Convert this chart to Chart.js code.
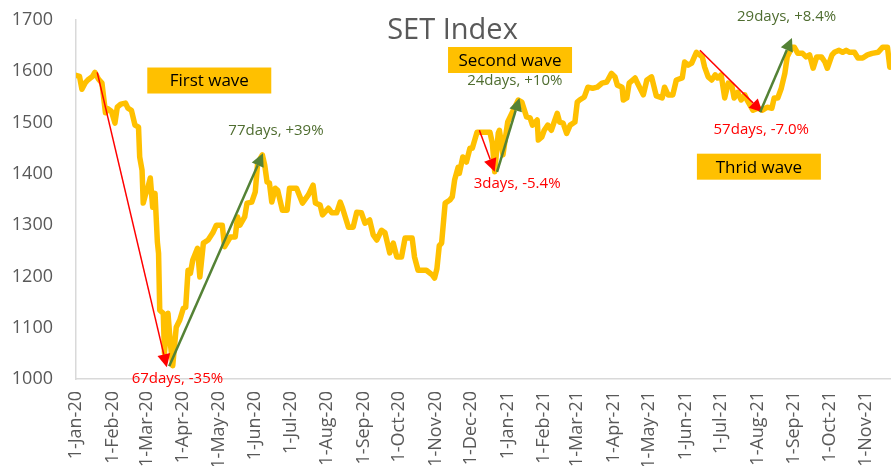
<!DOCTYPE html>
<html>
<head>
<meta charset="utf-8">
<script src="https://cdn.jsdelivr.net/npm/chart.js@4.4.0/dist/chart.umd.min.js"></script>
<style>
  html, body { margin: 0; padding: 0; background: #fff; }
</style>
</head>
<body>
<canvas id="setChart" width="891" height="466"></canvas>
<script>
// days counted from 1-Jan-20
const tradeDays = [
  0, 3, 5, 8, 10, 14, 16, 19, 22, 25, 27, 30, 33, 35, 38, 42, 44, 47, 50, 53,
  54, 56, 57, 59, 61, 63, 65, 67, 69, 70, 71, 74, 75, 78, 80, 82, 85, 88, 91, 93,
  95, 97, 99, 103, 105, 108, 112, 116, 119, 124, 126, 131, 135, 137, 139, 143, 145, 149, 152, 154,
  158, 160, 162, 164, 166, 169, 171, 175, 179, 181, 187, 192, 197, 201, 203, 207, 209, 214, 217, 221,
  224, 226, 231, 235, 238, 242, 245, 249, 252, 255, 259, 262, 266, 269, 272, 276, 279, 285, 287, 290,
  294, 297, 302, 304, 306, 308, 310, 313, 317, 319, 321, 324, 325, 328, 331, 334, 336, 340, 342, 347,
  351, 353, 355, 358, 359, 362, 366, 370, 375, 378, 382, 385, 387, 391, 392, 395, 397, 400, 403, 408,
  410, 413, 416, 419, 423, 425, 427, 431, 434, 438, 442, 446, 450, 454, 457, 459, 463, 464, 467, 469,
  474, 476, 481, 484, 488, 492, 497, 499, 502, 506, 509, 514, 516, 519, 522, 526, 531, 533, 536, 539,
  542, 544, 547, 550, 553, 556, 558, 561, 564, 567, 569, 574, 578, 582, 586, 590, 592, 595, 598, 601,
  603, 607, 609, 612, 616, 619, 622, 625, 628, 632, 635, 637, 641, 643, 647, 650, 653, 656, 660, 663,
  667, 671, 675, 680, 684, 688, 690
];
const setIndex = [
  1592, 1590, 1565, 1578, 1583, 1590, 1598, 1585, 1577, 1519, 1527, 1522, 1499, 1530, 1536, 1538, 1528, 1524, 1495, 1491,
  1433, 1407, 1343, 1360, 1374, 1392, 1335, 1362, 1267, 1245, 1134, 1128, 1051, 1128, 1070, 1026, 1101, 1115, 1138, 1140,
  1212, 1206, 1232, 1255, 1199, 1265, 1271, 1285, 1300, 1300, 1258, 1277, 1277, 1316, 1300, 1316, 1343, 1345, 1365, 1421,
  1437, 1417, 1384, 1382, 1345, 1372, 1368, 1329, 1329, 1372, 1372, 1343, 1359, 1378, 1343, 1339, 1320, 1333, 1324, 1324,
  1345, 1333, 1296, 1296, 1325, 1324, 1304, 1310, 1281, 1271, 1290, 1285, 1246, 1265, 1238, 1238, 1275, 1275, 1238, 1212,
  1212, 1212, 1203, 1197, 1215, 1260, 1265, 1343, 1349, 1355, 1388, 1413, 1401, 1433, 1423, 1450, 1450, 1481, 1481, 1481,
  1481, 1460, 1404, 1479, 1485, 1437, 1501, 1520, 1544, 1540, 1511, 1509, 1495, 1505, 1466, 1472, 1485, 1495, 1485, 1518,
  1501, 1499, 1479, 1495, 1501, 1540, 1544, 1550, 1569, 1567, 1569, 1577, 1579, 1596, 1589, 1573, 1569, 1544, 1548, 1577,
  1587, 1577, 1554, 1583, 1589, 1552, 1548, 1569, 1554, 1554, 1583, 1587, 1618, 1612, 1616, 1637, 1628, 1608, 1589, 1583,
  1593, 1587, 1593, 1548, 1577, 1573, 1548, 1559, 1544, 1554, 1544, 1524, 1528, 1524, 1530, 1528, 1548, 1548, 1567, 1596,
  1628, 1647, 1647, 1635, 1635, 1628, 1632, 1606, 1628, 1628, 1618, 1606, 1632, 1637, 1641, 1637, 1641, 1637, 1637, 1626,
  1626, 1632, 1635, 1637, 1647, 1647, 1608
];
const monthDays = [0, 31, 60, 91, 121, 152, 182, 213, 244, 274, 305, 335, 366, 397, 425, 456, 486, 517, 547, 578, 609, 639, 670];
const monthLabels = [
  "1-Jan-20", "1-Feb-20", "1-Mar-20", "1-Apr-20", "1-May-20", "1-Jun-20", "1-Jul-20", "1-Aug-20",
  "1-Sep-20", "1-Oct-20", "1-Nov-20", "1-Dec-20", "1-Jan-21", "1-Feb-21", "1-Mar-21", "1-Apr-21",
  "1-May-21", "1-Jun-21", "1-Jul-21", "1-Aug-21", "1-Sep-21", "1-Oct-21", "1-Nov-21"
];
const yTicks = [1000, 1100, 1200, 1300, 1400, 1500, 1600, 1700];

// notes, anchored in data units (day, index)
const waveBoxes = [
  { text: "First wave", day: 113, value: 1582 },
  { text: "Second wave", day: 368, value: 1622 },
  { text: "Thrid wave", day: 579, value: 1414 }
];
const moveLabels = [
  { text: "67days, -35%", day: 86, value: 1000, up: false },
  { text: "77days, +39%", day: 169.5, value: 1485, up: true },
  { text: "3days, -5.4%", day: 374, value: 1380, up: false },
  { text: "24days, +10%", day: 372, value: 1581, up: true },
  { text: "57days, -7.0%", day: 581, value: 1487, up: false },
  { text: "29days, +8.4%", day: 602.5, value: 1706, up: true }
];
const moveArrows = [
  { from: [18, 1598], to: [77, 1023], up: false },
  { from: [79, 1025], to: [158.5, 1440], up: true },
  { from: [342, 1485], to: [355, 1404], up: false },
  { from: [357, 1404], to: [376, 1548], up: true },
  { from: [529, 1641], to: [582, 1520], up: false },
  { from: [580, 1520], to: [607, 1665], up: true }
];

const RED = "#ff0000";
const GREEN = "#548235";
const GREEN_TEXT = "#4f6d30";
const GOLD = "#ffc000";
const GREY = "#595959";

function drawArrow(ctx, x1, y1, x2, y2, color, width, head) {
  const ang = Math.atan2(y2 - y1, x2 - x1);
  const bx = x2 - head * Math.cos(ang);
  const by = y2 - head * Math.sin(ang);
  const hw = head * 0.5;
  ctx.strokeStyle = color;
  ctx.lineWidth = width;
  ctx.beginPath();
  ctx.moveTo(x1, y1);
  ctx.lineTo(bx, by);
  ctx.stroke();
  ctx.fillStyle = color;
  ctx.beginPath();
  ctx.moveTo(x2, y2);
  ctx.lineTo(bx + hw * Math.sin(ang), by - hw * Math.cos(ang));
  ctx.lineTo(bx - hw * Math.sin(ang), by + hw * Math.cos(ang));
  ctx.closePath();
  ctx.fill();
}

const waveNotes = {
  id: "waveNotes",
  afterDatasetsDraw(chart) {
    const { ctx, scales: { x, y } } = chart;
    ctx.save();
    moveArrows.forEach(a => {
      drawArrow(ctx,
        x.getPixelForValue(a.from[0]), y.getPixelForValue(a.from[1]),
        x.getPixelForValue(a.to[0]), y.getPixelForValue(a.to[1]),
        a.up ? GREEN : RED, a.up ? 2.5 : 1.5, 13);
    });
    ctx.restore();
  },
  afterDraw(chart) {
    const { ctx, scales: { x, y } } = chart;
    ctx.save();
    ctx.textAlign = "center";
    ctx.textBaseline = "middle";

    ctx.font = "29px 'Open Sans'";
    ctx.fillStyle = GREY;
    ctx.fillText("SET Index", chart.width / 2 + 7, 31);

    ctx.font = "15px 'Open Sans'";
    moveLabels.forEach(l => {
      ctx.fillStyle = l.up ? GREEN_TEXT : RED;
      ctx.fillText(l.text, x.getPixelForValue(l.day), y.getPixelForValue(l.value));
    });

    ctx.font = "17px 'Open Sans'";
    waveBoxes.forEach(b => {
      const cx = x.getPixelForValue(b.day);
      const cy = y.getPixelForValue(b.value);
      ctx.fillStyle = GOLD;
      ctx.fillRect(cx - 62, cy - 13, 124, 26);
      ctx.fillStyle = "#000";
      ctx.fillText(b.text, cx, cy + 1);
    });
    ctx.restore();
  }
};

new Chart(document.getElementById("setChart"), {
  type: "line",
  data: {
    datasets: [{
      label: "SET Index",
      data: tradeDays.map((d, i) => ({ x: d, y: setIndex[i] })),
      borderColor: GOLD,
      borderWidth: 5.5,
      borderJoinStyle: "round",
      borderCapStyle: "round",
      pointRadius: 0,
      tension: 0,
      fill: false
    }]
  },
  options: {
    responsive: false,
    animation: false,
    devicePixelRatio: 1,
    layout: { padding: { top: 20, right: 0, left: 0, bottom: 0 } },
    plugins: { legend: { display: false }, tooltip: { enabled: false } },
    scales: {
      x: {
        type: "linear",
        min: 0,
        max: 691,
        afterBuildTicks: s => { s.ticks = monthDays.map(v => ({ value: v })); },
        afterFit: s => { s.height = 87; s.paddingLeft = 0; s.paddingRight = 0; },
        grid: { display: false, drawTicks: false },
        border: { display: true, color: "#d9d9d9", width: 1.5 },
        ticks: {
          autoSkip: false,
          minRotation: 90,
          maxRotation: 90,
          padding: 12,
          color: GREY,
          font: { family: "'Open Sans'", size: 18 },
          callback: (v, i) => monthLabels[i]
        }
      },
      y: {
        min: 1000,
        max: 1700,
        afterBuildTicks: s => { s.ticks = yTicks.map(v => ({ value: v })); },
        afterFit: s => { s.width = 76; s.paddingTop = 0; s.paddingBottom = 0; },
        grid: { display: false, drawTicks: false },
        border: { display: true, color: "#d9d9d9", width: 1.5 },
        ticks: {
          padding: 23,
          color: GREY,
          font: { family: "'Open Sans'", size: 18 },
          callback: v => String(v)
        }
      }
    }
  },
  plugins: [waveNotes]
});
</script>
</body>
</html>
